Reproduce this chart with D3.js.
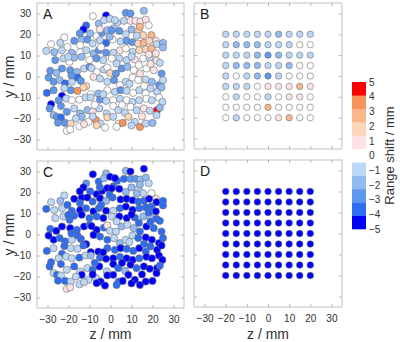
<!DOCTYPE html>
<html><head><meta charset="utf-8">
<script src="https://cdn.jsdelivr.net/npm/d3@7"></script>
<style>
body{margin:0;background:#fff}
svg{display:block}
text{font-family:"Liberation Sans",Arial,sans-serif}
</style>
</head><body>
<svg id="chart" width="400" height="342"></svg>
<script>
// ---------------- data ----------------
const axisTicks = [-30, -20, -10, 0, 10, 20, 30];
const colorTicks = [-5, -4, -3, -2, -1, 0, 1, 2, 3, 4, 5];
const colorbarTitle = "Range shift / mm";
const panelLetters = ["A", "B", "C", "D"];

// scattered spots: [z (mm), y (mm), range shift A (mm), range shift C (mm)]
const scatterPoints = [
  [15.9,31.3,-2,-5],[7.3,30.3,-3,-2],[9.5,30.0,-3,-5],[-2.1,29.1,-5,-2],[-8.4,28.7,0,-5],
  [-5.6,25.2,-1.5,-4],[-3.1,26.8,-1,-2],[-0.2,27.5,-1,-5],[3.2,25.6,-1,-4],[6.4,26.5,-1,-4],
  [9.5,26.5,0.5,-3],[11.9,26.5,0.7,-3],[14.3,26.2,0.6,-2],[16.8,27.1,0.8,-1.5],[18.2,24.4,0,-1],
  [-11.6,24.3,-3.5,-3],[-12.9,22.4,-5,-5],[-9.7,20.5,-1.5,-4],[-6.6,19.2,0,-5],[-4.0,20.8,-3,-5],
  [-1.5,22.1,-1.5,-5],[1.3,22.9,-1,-4],[4.2,21.7,-3,-5],[7.3,20.2,-1,-1.5],[10.0,22.4,-1.5,-1.5],
  [13.2,21.7,2,-1],[14.0,23.7,2.5,-1.5],[19.5,19.7,2.5,0],[21.6,17.0,0.7,0.7],[-22.0,18.6,0,-1],
  [-28.3,15.4,0,-1],[-23.9,16.0,-1,-1.5],[-17.3,17.0,-3,-5],[-13.7,17.6,-1.5,-5],[-11.0,17.6,-2.5,-5],
  [-14.5,14.9,0,-4],[-8.5,15.7,-1,-4],[-5.0,17.3,-1,-5],[-2.1,16.0,-3.5,-1.5],[1.0,17.6,0,-4],
  [4.8,16.7,-1,-5],[7.7,17.0,-2.5,-5],[10.5,16.3,-3,-5],[13.2,15.7,2,-4],[15.9,16.0,2.5,-4],
  [18.4,17.0,1.5,-5],[21.9,15.4,-1,-5],[25.0,16.0,-2,-4],[-30.6,12.2,-1,-4],[-26.8,11.6,-1.5,-1],
  [-23.1,12.5,-1,-1],[-20.5,14.1,0,-4],[-18.4,11.3,-2,-4],[-14.5,11.6,0,-5],[-11.6,12.5,-1,-4],
  [-8.1,11.0,-1.5,-5],[-5.6,12.5,-2.5,-4],[-2.1,11.3,-3,-5],[1.3,11.3,-1,-1],[4.5,12.5,0.5,-4],
  [7.3,13.3,0,-5],[10.5,11.7,-1,-5],[13.7,12.5,1.5,-4],[16.8,12.9,2,-4],[19.5,13.3,2.5,-4],
  [21.6,11.0,0.7,-5],[25.0,13.8,-2,-4],[-26.3,7.8,-3,-1],[-22.4,8.6,-1,-1],[-19.5,7.0,0,-4],
  [-17.3,9.0,-1.5,-4],[-13.7,9.4,-2,-5],[-10.0,7.8,0,-4],[-6.6,8.6,-3,-4],[-3.4,7.8,-1,-5],
  [0.6,8.6,0,-1],[4.2,8.6,-1,-5],[7.7,7.8,-1,-5],[11.6,8.1,0.5,-4],[15.6,8.6,0,-1.5],
  [18.7,8.6,-1,-1.5],[21.9,7.5,1,-4],[23.5,6.5,-1,-4],[-28.7,2.7,-3,-4],[-25.8,1.7,-1.5,-5],
  [-23.1,3.8,-2.5,-5],[-19.2,3.0,-3,-5],[-16.0,2.2,-1.5,-4],[-12.6,3.8,-1,-5],[-10.0,4.6,-3,-4],
  [-6.6,2.2,0,-5],[-3.1,3.3,-1,-4],[-1.5,4.3,0,0.6],[-0.2,1.7,1.5,-1],[2.6,1.4,-3,-1],
  [5.3,3.8,-3,-1.5],[8.0,4.6,-1.5,-1],[11.1,3.0,0,-1.5],[14.0,1.4,0.6,-4],[17.1,3.8,0,-5],
  [20.6,3.0,0.6,-4],[24.3,1.4,-2.5,-4],[-29.5,-0.5,-3,-5],[-27.1,-2.5,-2.5,-5],[-24.2,-1.7,-1.5,-4],
  [-21.6,-3.3,-4,-4],[-18.4,-2.5,-1,-1],[-15.7,-0.5,-3.5,-4],[-14.1,-2.1,-3,-4],[-11.6,-4.6,2,-5],
  [-8.1,-0.2,0.5,-5],[-5.0,-1.0,-1,-4],[-1.5,-2.5,-1,-4],[1.7,-1.7,-3,-1],[4.5,-4.1,0,-1.5],
  [7.3,-2.5,-1,-1],[10.5,-0.5,0,-1],[13.2,-1.7,0,-4],[16.8,-1.4,-1,-5],[19.7,-2.5,-1.5,-5],
  [23.1,-4.1,-3,-5],[25.0,-1.7,-1,-4],[-30.3,-7.8,-3.5,-4],[-27.1,-6.5,-3,-1],[-23.1,-9.2,-5,-4],
  [-18.9,-6.5,-3,-1],[-15.7,-6.8,3.5,-1],[-12.9,-5.2,1.5,-4],[-9.4,-8.4,0,-5],[-5.8,-8.1,-2,-5],
  [-1.5,-6.5,0,-4],[2.1,-7.3,-1,-4],[4.8,-6.5,-2.5,-5],[7.7,-6.8,-1,-4],[10.8,-7.8,0,-4],
  [13.7,-6.5,-1,-5],[16.8,-8.1,0,-4],[19.0,-5.7,-1,-4],[22.2,-7.3,-1,-5],[24.3,-5.2,-2,-5],
  [-28.3,-13.2,-5,-4],[-24.7,-11.3,-2.5,-1],[-21.1,-10.5,-1,-1],[-18.4,-11.3,0,-1],[-14.8,-11.0,0,-4],
  [-11.9,-10.0,-1,-1],[-9.4,-10.0,-1,-1.5],[-5.0,-11.0,-3,-4],[-2.1,-11.6,-1,-5],[1.3,-11.3,0,-5],
  [4.5,-10.6,-1,-4],[7.7,-11.3,0,-5],[10.5,-12.1,-1,-5],[13.7,-11.3,-1,-4],[17.1,-10.6,0,-5],
  [19.7,-11.3,-1,-5],[23.1,-10.0,0,-5],[24.7,-12.1,-1,-5],[-29.0,-15.2,-3,-4],[-27.1,-18.4,-1.5,-1],
  [-23.6,-14.1,-2.5,-4],[-20.8,-16.8,-3,-1],[-17.3,-15.2,-1,-4],[-14.5,-17.6,-1.5,-1],[-11.0,-16.0,-2,-1],
  [-8.5,-16.8,0.5,-4],[-5.3,-15.2,-1,-5],[-1.8,-17.6,-1,-1],[1.3,-14.1,0,-5],[3.7,-16.0,-1,-4],
  [6.9,-17.3,-1,-1.5],[9.5,-14.4,0,-5],[12.4,-16.0,-1,-4],[15.9,-15.2,0.5,-5],[18.7,-16.3,-1,-5],
  [22.2,-16.0,5,-5],[23.5,-14.8,-2,-4],[-25.5,-19.2,-3,-4],[-23.6,-19.5,-4,-1],[-21.6,-22.1,-2.5,-4],
  [-18.9,-22.4,1.5,-1],[-13.7,-19.2,-1.5,-5],[-10.5,-21.6,0,-1],[-6.9,-20.8,3.5,-1],[-4.7,-22.4,-1,-5],
  [-1.5,-19.5,2,-5],[1.3,-19.2,-1,-5],[3.9,-22.4,0.5,-4],[5.8,-22.1,3.5,-5],[8.5,-19.2,2,-5],
  [11.6,-21.6,-1,-5],[14.0,-24.0,3.5,-5],[16.8,-22.4,-1,-5],[20.0,-22.1,-2,-5],[21.9,-18.4,-1,-5],
  [-20.8,-25.9,0,0.6],[-19.2,-25.2,0,0.6],[-14.8,-23.7,0,-1],[-12.6,-22.7,0.6,-1],[-6.6,-23.2,1.5,-5],
  [-2.6,-24.3,0,-5],[2.9,-24.0,0,-4],[10.0,-23.3,-1,-5],[-14.6,20.5,-3,-5],[-5.1,22.5,0.5,-4],
  [-0.4,18.9,-1.5,-4],[-20.1,9.3,-1,-4],[2.1,26.8,-1,-5],[0.6,22.0,-3,-5],[15.5,19.7,1.5,-1],
  [18.2,10.5,0.6,-4],[2.9,6.2,-1,-1],[-18.6,0.5,-3,-4],[19.0,6.0,0.7,-4],[13.5,5.5,0,-4],
  [16.0,-4.5,0,-4],[9.0,-3.5,-1,-1],[-3.5,-8.5,-1,-5],[-7.5,-13.5,0,-4],[5.5,-13.5,0,-5],
  [15.0,-19.0,0.6,-5],[-8.5,-19.0,-1,-5],[-16.5,-20.0,-1,-1],[-25.0,-22.0,-3,-4],[-4.5,14.0,0,-4],
  [12.5,19.5,-1,-1.5],[-9.0,4.0,-1,-5],[-22.0,-5.5,-1,-4],[10.0,9.5,-1,-5]
];

// regular 9x9 spot grid (panels B and D)
const gridZ = [-20, -15, -10, -5, 0, 5, 10, 15, 20];
const gridY = [20, 15, 10, 5, 0, -5, -10, -15, -20];
const shiftB = [
  [-1,-1,-1,-1,-1,-2,-1,-1,-1],
  [-1,-2,-2,-2,-1,-1,-1,0,0],
  [-1,-1,-1,-2,-3,-2,-1,-1,-1],
  [-1,-2,-2,-2,-1,-1,-2,0,0],
  [-1,0,-1,-2,-3,-1,0,0,0],
  [-1,-1,-1,0,0.7,0.7,0.7,3,0.7],
  [0,-1,0,0,-1,0,0.7,0.7,0],
  [0,0,0,0,3,0,0,0,0],
  [0,-1,0,0,0,0.7,3,0,0]
];
const shiftD = [
  [-5,-5,-5,-5,-5,-5,-5,-5,-5],
  [-5,-5,-5,-5,-5,-5,-5,-5,-5],
  [-5,-5,-5,-5,-5,-5,-5,-5,-5],
  [-5,-5,-5,-5,-5,-5,-5,-5,-5],
  [-5,-5,-5,-5,-5,-5,-5,-5,-5],
  [-5,-5,-5,-5,-5,-5,-5,-5,-5],
  [-5,-5,-5,-5,-5,-5,-5,-5,-5],
  [-5,-5,-5,-5,-5,-5,-5,-5,-5],
  [-5,-5,-5,-5,-5,-5,-5,-5,-5]
];

// ---------------- drawing ----------------
const palette = ["#0000ff","#2e6cf2","#5e97ee","#93bbf3","#bcd7f8","#ffffff",
                 "#fde3e6","#fdd6b8","#fbb68c","#f8935a","#ff0000"];
const color = d3.scaleQuantize().domain([-5, 5]).range(palette);

const svg = d3.select("#chart");
const BOX = "#b0b0b0", TXT = "#303030";

const panels = [
  {letter: panelLetters[0], x: 37,  y: 3,   w: 147, h: 147, showY: true,  showX: false, kind: "scatter", col: 2, r: 3.6},
  {letter: panelLetters[1], x: 194, y: 3,   w: 148, h: 146, showY: false, showX: false, kind: "grid", vals: shiftB, r: 3.2},
  {letter: panelLetters[2], x: 37,  y: 161, w: 147, h: 147, showY: true,  showX: true,  kind: "scatter", col: 3, r: 3.6},
  {letter: panelLetters[3], x: 194, y: 160, w: 148, h: 147, showY: false, showX: true,  kind: "grid", vals: shiftD, r: 3.3}
];

panels.forEach(p => {
  const g = svg.append("g");
  const xs = d3.scaleLinear().domain([-35, 35]).range([p.x, p.x + p.w]);
  const ys = d3.scaleLinear().domain([-35, 35]).range([p.y + p.h, p.y]);

  g.append("rect").attr("x", p.x).attr("y", p.y).attr("width", p.w).attr("height", p.h)
    .attr("fill", "#fff").attr("stroke", BOX).attr("stroke-width", 0.8);

  const style = sel => {
    sel.select(".domain").remove();
    sel.selectAll(".tick line").attr("stroke", "#9a9a9a").attr("stroke-width", 0.7);
    sel.selectAll(".tick text").attr("fill", TXT).attr("font-size", 10)
      .attr("font-family", "'Liberation Sans', Arial, sans-serif");
  };

  g.append("g").attr("transform", `translate(0,${p.y + p.h})`)
    .call(d3.axisBottom(xs).tickValues(axisTicks).tickSizeInner(-3).tickSizeOuter(0).tickPadding(8)
      .tickFormat(p.showX ? d3.format("d") : () => ""))
    .call(style);
  g.append("g").attr("transform", `translate(0,${p.y})`)
    .call(d3.axisTop(xs).tickValues(axisTicks).tickSizeInner(-3).tickSizeOuter(0).tickFormat(() => ""))
    .call(style);
  g.append("g").attr("transform", `translate(${p.x},0)`)
    .call(d3.axisLeft(ys).tickValues(axisTicks).tickSizeInner(-3).tickSizeOuter(0).tickPadding(6)
      .tickFormat(p.showY ? d3.format("d") : () => ""))
    .call(style);
  g.append("g").attr("transform", `translate(${p.x + p.w},0)`)
    .call(d3.axisRight(ys).tickValues(axisTicks).tickSizeInner(-3).tickSizeOuter(0).tickFormat(() => ""))
    .call(style);

  let pts;
  if (p.kind === "scatter") {
    pts = scatterPoints.map(d => ({z: d[0], y: d[1], v: d[p.col]}));
  } else {
    pts = [];
    gridY.forEach((yy, i) => gridZ.forEach((zz, j) => pts.push({z: zz, y: yy, v: p.vals[i][j]})));
  }
  g.append("g").selectAll("circle").data(pts).join("circle")
    .attr("cx", d => xs(d.z)).attr("cy", d => ys(d.y)).attr("r", p.r)
    .attr("fill", d => color(d.v))
    .attr("stroke", "#6e6e6e").attr("stroke-width", 0.6);

  g.append("text").attr("x", p.x + 6).attr("y", p.y + 16)
    .attr("font-size", 14).attr("fill", "#202020").text(p.letter);

  if (p.showY) {
    const cy = (ys.range()[0] + ys.range()[1]) / 2;
    g.append("text").attr("transform", `translate(14,${cy}) rotate(-90)`)
      .attr("text-anchor", "middle").attr("font-size", 14).attr("fill", TXT).text("y / mm");
  }
  if (p.showX) {
    const cx = (xs.range()[0] + xs.range()[1]) / 2;
    g.append("text").attr("x", cx).attr("y", 339)
      .attr("text-anchor", "middle").attr("font-size", 14).attr("fill", TXT).text("z / mm");
  }
});

// colorbar
const cbX = 352, cbW = 14;
const cbScale = d3.scaleLinear().domain([-5, 5]).range([229, 82]);
const step = 10 / palette.length;
const cb = svg.append("g");
cb.selectAll("rect").data(palette).join("rect")
  .attr("x", cbX).attr("width", cbW)
  .attr("y", (c, i) => cbScale(-5 + (i + 1) * step))
  .attr("height", (c, i) => cbScale(-5 + i * step) - cbScale(-5 + (i + 1) * step) + 0.3)
  .attr("fill", c => c);
cb.append("g").attr("transform", `translate(${cbX + cbW},0)`)
  .call(d3.axisRight(cbScale).tickValues(colorTicks).tickSizeInner(0).tickSizeOuter(0).tickPadding(3).tickFormat(d3.format("d")))
  .call(sel => {
    sel.select(".domain").remove();
    sel.selectAll(".tick text").attr("fill", TXT).attr("font-size", 10)
      .attr("font-family", "'Liberation Sans', Arial, sans-serif");
  });
cb.append("text").attr("transform", `translate(394,${(cbScale(-5) + cbScale(5)) / 2}) rotate(-90)`)
  .attr("text-anchor", "middle").attr("font-size", 13).attr("fill", TXT).text(colorbarTitle);
</script>
</body></html>
